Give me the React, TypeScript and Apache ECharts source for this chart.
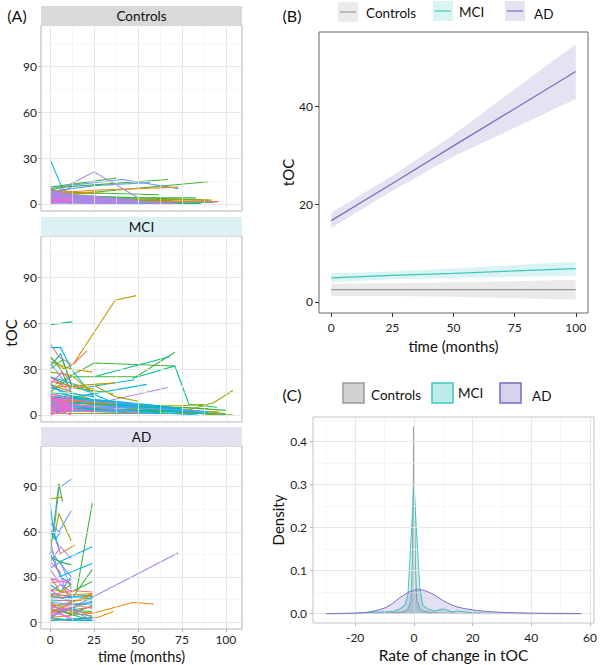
import React, { useEffect, useRef } from 'react';
import * as echarts from 'echarts';

const FONT = 'Lato, "Open Sans", sans-serif';

// ---------- shared ticks ----------
const facetNames = ['Controls', 'MCI', 'AD'];
const facetStripColors = ['#d9d9d9', '#dcf1f1', '#e4e1f1'];
const monthTicks = [0, 25, 50, 75, 100];
const monthMinor = [12.5, 37.5, 62.5, 87.5];
const tocTicksA = [0, 30, 60, 90];
const tocMinorA = [15, 45, 75, 105];
const tocTicksB = [0, 20, 40];
const rateTicks = [-20, 0, 20, 40, 60];
const rateMinor = [-30, -10, 10, 30, 50];
const densityTicks = [0, 0.1, 0.2, 0.3, 0.4];
const densityMinor = [0.05, 0.15, 0.25, 0.35, 0.45];

// ---------- panel A: individual trajectories [colour key, t0,v0,t1,v1,...] ----------
const trajColors: Record<string, string> = {
  R: '#F8766D', O: '#E8890C', G: '#C49A00', L: '#A3A500', N: '#3DB43D',
  T: '#00BF8A', C: '#00B4E8', B: '#619CFF', P: '#AD86EA', K: '#F464CF',
};

const controlsTrajectories: [string, number[]][] = [
  ['C', [0, 29, 7, 10, 13, 5]], ['C', [0, 4, 48, 1, 86, 0.5]], ['C', [0, 6, 25, 3, 93, 1]],
  ['C', [0, 3, 30, 1]], ['C', [0, 7, 12, 4, 40, 1.5]], ['C', [0, 2, 60, 0.5]],
  ['B', [0, 10, 10, 12, 41, 16, 73, 10]], ['B', [0, 8, 25, 12, 57, 14]], ['B', [0, 7, 12, 6, 50, 3]],
  ['B', [0, 4, 25, 2]], ['B', [0, 9, 6, 8, 12, 11]],
  ['N', [0, 5, 90, 14.5]], ['N', [0, 9, 7, 11, 67, 16]], ['N', [0, 11, 38, 17]], ['N', [0, 8, 62, 6]],
  ['N', [0, 4, 83, 4]], ['N', [0, 6, 25, 5, 90, 2.5]], ['N', [0, 3, 50, 2, 75, 1]],
  ['T', [0, 7, 25, 4, 50, 1.5]], ['T', [0, 3, 90, 1]], ['T', [0, 5, 12, 3, 70, 2]], ['T', [0, 10, 6, 7, 25, 4]],
  ['T', [0, 2, 12, 1, 62, 0.5]], ['T', [0, 1, 85, 0.3]], ['T', [0, 4, 37, 3, 75, 0.5]],
  ['O', [0, 7, 25, 9, 73, 11]], ['O', [0, 2, 95, 1.5]], ['O', [0, 9, 15, 8]], ['O', [0, 6, 12, 7, 26, 8]],
  ['L', [0, 3, 92, 2.5]], ['L', [0, 6, 30, 7]], ['L', [0, 2, 75, 3]],
  ['R', [0, 1, 96, 1.5]], ['R', [0, 3, 12, 2]],
  ['P', [0, 6, 25, 21, 50, 4]], ['P', [0, 8, 13, 3]], ['P', [0, 7, 25, 1]], ['P', [0, 5, 12, 4, 25, 2]],
  ['P', [0, 4, 13, 0]], ['P', [0, 3, 25, 0]], ['P', [0, 6, 12, 2]], ['P', [0, 9, 12, 5]],
  ['P', [0, 2, 25, 1]], ['P', [0, 5, 37, 1]], ['P', [0, 7, 12, 6, 24, 3]], ['P', [0, 4, 49, 0.5]],
  ['P', [0, 1, 25, 3]], ['P', [0, 0, 12, 2]], ['P', [0, 3, 12, 5]], ['P', [0, 8, 25, 4]],
  ['P', [0, 2, 37, 0]], ['P', [0, 6, 50, 1]], ['P', [0, 0.5, 25, 0.5, 50, 0]], ['P', [0, 1, 12, 1, 37, 1]],
  ['P', [0, 4, 25, 3, 38, 2]], ['P', [0, 5, 62, 0.5]], ['P', [0, 8, 37, 2]], ['P', [0, 3, 70, 0]],
  ['P', [0, 6, 25, 5, 50, 2]], ['P', [0, 2, 50, 1, 72, 0.5]], ['P', [0, 7, 37, 3, 60, 1]],
  ['K', [0, 4, 12, 1]], ['K', [0, 2, 12, 3]],
];

const mciTrajectories: [string, number[]][] = [
  ['T', [0, 59, 13, 61]],
  ['G', [0, 38, 8, 30, 13, 33, 37, 75, 49, 78]],
  ['R', [0, 47, 5, 38, 12, 33]], ['R', [13, 33, 21, 42]],
  ['N', [0, 15, 12, 25, 49, 25, 71, 41]], ['N', [3, 20, 25, 34, 71, 32]],
  ['T', [25, 25, 68, 38]], ['T', [47, 24, 71, 32, 79, 7, 95, 5]],
  ['C', [0, 44, 3, 44, 6, 44, 12, 30, 26, 10]], ['C', [0, 32, 6, 40, 12, 20, 40, 6]],
  ['C', [0, 25, 20, 18, 48, 23]], ['C', [5, 10, 55, 20]],
  ['P', [28, 8, 67, 18]],
  ['L', [0, 5, 75, 2, 93, 8, 104, 16]],
  ['G', [0, 35, 12, 30, 24, 28]], ['G', [0, 18, 25, 20, 37, 21]], ['G', [0, 20, 24, 10, 50, 3]],
  ['G', [12, 10, 60, 5, 100, 1]], ['G', [0, 8, 50, 6, 90, 4]], ['G', [0, 4, 96, 2]],
  ['N', [0, 38, 6, 30, 12, 15]], ['N', [0, 30, 7, 36, 12, 20]], ['N', [50, 5, 94, 0]],
  ['N', [0, 12, 37, 8, 62, 4]], ['N', [0, 25, 12, 18, 36, 14]], ['N', [0, 2, 75, 5, 100, 3]],
  ['L', [0, 28, 12, 26, 25, 14]], ['L', [24, 20, 37, 12, 50, 9]], ['L', [0, 10, 62, 3, 98, 0]],
  ['L', [0, 6, 75, 6, 88, 7]], ['L', [0, 1, 86, 1, 104, 0]],
  ['T', [0, 20, 12, 12, 62, 2]], ['T', [0, 15, 25, 10, 75, 4]], ['T', [0, 6, 50, 3, 100, 0.5]],
  ['T', [0, 3, 90, 2]], ['T', [0, 9, 36, 6, 75, 3]],
  ['C', [0, 14, 25, 8, 80, 2]], ['C', [0, 8, 40, 3, 84, 0]], ['C', [0, 5, 62, 1]],
  ['C', [0, 18, 12, 14, 25, 12]], ['C', [0, 12, 37, 9, 70, 5]], ['C', [0, 9, 40, 7, 90, 2]],
  ['C', [0, 4, 50, 5, 86, 1]], ['C', [0, 10, 25, 9, 62, 6]],
  ['B', [0, 20, 12, 10, 25, 8]], ['B', [0, 34, 6, 25, 12, 17]], ['B', [0, 7, 48, 5]],
  ['B', [0, 3, 30, 2, 60, 1]], ['B', [0, 6, 62, 4, 88, 2]], ['B', [0, 11, 50, 7]],
  ['O', [0, 22, 12, 19, 25, 17]], ['O', [0, 10, 37, 7]],
  ['R', [0, 14, 12, 10, 24, 8]],
  ['P', [0, 10, 24, 5, 50, 2]], ['P', [0, 4, 36, 2]],
  ['K', [0, 25, 12, 15]], ['K', [0, 20, 7, 28, 12, 22]], ['K', [0, 12, 6, 10, 12, 8]],
  ['K', [0, 10, 12, 4]], ['K', [0, 8, 6, 5, 12, 11]], ['K', [0, 6, 12, 2]],
  ['K', [0, 4, 6, 9, 12, 3]], ['K', [0, 2, 12, 6]], ['K', [0, 0, 12, 4]],
  ['K', [0, 14, 6, 7, 12, 1]], ['K', [0, 5, 12, 0]], ['K', [0, 9, 12, 12]],
  ['K', [0, 3, 6, 1, 12, 5]], ['K', [0, 11, 12, 7, 24, 5]], ['K', [0, 7, 24, 2]],
  ['K', [0, 1, 12, 8]], ['K', [0, 13, 12, 2]],
];

const adTrajectories: [string, number[]][] = [
  ['B', [2, 58, 5, 89, 12, 95]], ['N', [0, 45, 5, 92, 7, 80]], ['L', [0, 82, 7, 83]],
  ['L', [2, 55, 5, 72, 12, 54]], ['C', [0, 79, 2, 60, 5, 50]], ['N', [15, 20, 24, 79]],
  ['P', [10, 8, 73, 46]], ['O', [0, 3, 25, 6, 47, 13, 59, 12]], ['O', [12, 2, 27, 3, 36, 7]],
  ['B', [0, 66, 5, 60, 12, 74]], ['O', [5, 45, 14, 51]], ['C', [5, 40, 24, 50]], ['C', [5, 30, 24, 39]],
  ['N', [12, 15, 24, 35]], ['N', [12, 20, 24, 27]],
  ['P', [0, 62, 3, 55, 6, 45]], ['P', [0, 40, 6, 50, 12, 42]], ['P', [0, 55, 4, 35, 8, 28]],
  ['P', [0, 35, 6, 25, 12, 20]], ['P', [0, 28, 6, 30, 12, 12]], ['P', [0, 20, 6, 25, 12, 16]],
  ['B', [0, 48, 5, 40, 12, 30]], ['B', [0, 36, 6, 40, 12, 22]],
  ['C', [0, 60, 3, 55, 6, 60]], ['C', [0, 46, 6, 30, 12, 25]], ['C', [0, 25, 6, 20, 12, 30]],
  ['C', [0, 19, 12, 17, 24, 18]], ['C', [0, 16, 24, 17]], ['C', [0, 11, 24, 12]],
  ['T', [0, 18, 12, 14, 24, 16]], ['T', [0, 14, 24, 15]], ['T', [0, 6, 12, 8, 24, 10]], ['T', [0, 9, 24, 1]],
  ['N', [0, 43, 6, 40, 12, 38]], ['N', [0, 12, 12, 5, 24, 11]], ['N', [0, 8, 24, 4]],
  ['N', [0, 4, 24, 14]], ['N', [0, 2, 6, 8, 24, 7]],
  ['G', [0, 22, 12, 19]], ['G', [0, 13, 12, 7, 24, 6]], ['G', [0, 30, 6, 20, 12, 25]],
  ['O', [0, 17, 12, 18, 24, 19]], ['O', [0, 6, 12, 13, 24, 19]], ['O', [0, 10, 18, 15, 24, 18]],
  ['R', [0, 18, 12, 21, 24, 20]], ['R', [0, 9, 12, 6, 24, 11]], ['R', [0, 5, 12, 12, 24, 9]],
  ['K', [0, 29, 6, 27, 12, 26]], ['K', [0, 15, 12, 14]], ['K', [0, 12, 6, 8, 12, 10]],
  ['K', [0, 7, 12, 3]], ['K', [0, 4, 6, 6, 12, 1]], ['K', [0, 2, 12, 1]],
  ['K', [0, 22, 6, 16, 12, 18]], ['K', [0, 26, 12, 28]], ['K', [0, 40, 6, 33]],
  ['P', [0, 10, 12, 8, 24, 1]], ['P', [0, 3, 12, 10, 24, 3]],
  ['B', [0, 13, 12, 12, 24, 13]], ['B', [0, 1, 24, 2]], ['C', [0, 3, 12, 1, 24, 1]], ['T', [0, 1, 24, 3]],
];

// ---------- panel B: fitted trends with 95% bands ----------
const fitTime = [0, 25, 50, 75, 100];
const fitControls = [2.5, 2.5, 2.5, 2.5, 2.5];
const loControls = [1.2, 1.2, 1.0, 0.7, 0.4];
const hiControls = [3.7, 3.8, 4.0, 4.2, 4.5];
const fitMCI = [4.9, 5.4, 5.8, 6.3, 6.8];
const loMCI = [4.0, 4.6, 4.9, 5.1, 5.3];
const hiMCI = [5.8, 6.2, 6.8, 7.5, 8.2];
const fitAD = [16.6, 24.2, 31.9, 39.5, 47.1];
const loAD = [15.1, 22.7, 29.7, 35.6, 41.5];
const hiAD = [18.2, 25.8, 34.2, 43.5, 52.7];

// ---------- panel C: densities of rate of change ----------
const rateGrid = [-30, -20, -15, -10, -7, -5, -3, -2, -1, -0.5, -0.25, 0, 0.25, 0.5, 1, 2, 3, 5, 7, 10, 13, 15, 20, 25, 30, 40, 57];
const densControls = [0, 0, 0.001, 0.001, 0.002, 0.003, 0.005, 0.01, 0.03, 0.12, 0.28, 0.435, 0.28, 0.12, 0.03, 0.012, 0.006, 0.003, 0.002, 0.001, 0.001, 0, 0, 0, 0, 0, 0];
const densMCI = [0, 0.001, 0.003, 0.004, 0.005, 0.01, 0.02, 0.045, 0.17, 0.23, 0.26, 0.29, 0.27, 0.24, 0.18, 0.06, 0.02, 0.01, 0.006, 0.011, 0.004, 0.006, 0.002, 0.001, 0.0005, 0, 0];
const densAD = [0, 0.001, 0.004, 0.013, 0.025, 0.036, 0.045, 0.049, 0.052, 0.053, 0.0535, 0.054, 0.0545, 0.055, 0.0553, 0.0555, 0.055, 0.05, 0.043, 0.03, 0.02, 0.015, 0.0085, 0.005, 0.003, 0.0012, 0.0002];

const groupLine = ['#9a9a9a', '#3ec6bf', '#7a6cc0'];
const groupBand = ['rgba(150,150,150,0.2)', 'rgba(64,200,192,0.2)', 'rgba(123,108,192,0.2)'];
const groupDensFill = ['rgba(150,150,150,0.45)', 'rgba(64,200,192,0.35)', 'rgba(123,108,192,0.3)'];

// ---------- layout ----------
const A_LEFT = 41, A_W = 201, A_H = 186, STRIP_H = 19;
const A_TOPS = [25, 236, 446];

function toPairs(a: number[]) {
  const out: number[][] = [];
  for (let i = 0; i < a.length; i += 2) out.push([a[i], a[i + 1]]);
  return out;
}

function gridLineSeries(gi: number, xs: number[], xm: number[], ys: number[], ym: number[]) {
  const major = { color: '#e4e4e4', width: 0.9, type: 'solid' };
  const minor = { color: '#f0f0f0', width: 0.6, type: 'solid' };
  return {
    type: 'line', xAxisIndex: gi, yAxisIndex: gi, data: [], silent: true, z: 1,
    markLine: {
      silent: true, symbol: ['none', 'none'], label: { show: false }, animation: false,
      emphasis: { disabled: true },
      data: [
        ...xm.map((v) => ({ xAxis: v, lineStyle: minor })),
        ...ym.map((v) => ({ yAxis: v, lineStyle: minor })),
        ...xs.map((v) => ({ xAxis: v, lineStyle: major })),
        ...ys.map((v) => ({ yAxis: v, lineStyle: major })),
      ],
    },
  };
}

function bandSeries(lo: number[], hi: number[], color: string) {
  return {
    type: 'custom', xAxisIndex: 3, yAxisIndex: 3, silent: true, z: 2,
    data: fitTime.map((t, i) => [t, lo[i], hi[i]]),
    renderItem: (params: any, api: any) => {
      if (params.dataIndex !== 0) return { type: 'group', children: [] };
      const pts: number[][] = [];
      for (let i = 0; i < fitTime.length; i++) pts.push(api.coord([fitTime[i], hi[i]]));
      for (let i = fitTime.length - 1; i >= 0; i--) pts.push(api.coord([fitTime[i], lo[i]]));
      return { type: 'polygon', shape: { points: pts }, style: { fill: color } };
    },
  };
}

function buildOption() {
  const trajSets = [controlsTrajectories, mciTrajectories, adTrajectories];
  const labelStyle = { fontSize: 12, color: '#222', fontFamily: FONT };
  const noLine = { show: false, onZero: false };

  const grid: any[] = [
    ...A_TOPS.map((t) => ({ left: A_LEFT, top: t, width: A_W, height: A_H, show: true, borderColor: '#b3b3b3', borderWidth: 1, backgroundColor: '#fff' })),
    { left: 319, top: 32, width: 269, height: 281, show: true, borderColor: '#666', borderWidth: 1, backgroundColor: 'transparent' },
    { left: 313, top: 417, width: 284, height: 206, show: true, borderColor: '#c4c4c4', borderWidth: 1, backgroundColor: '#fff' },
  ];

  const xAxis: any[] = [
    ...A_TOPS.map((_, i) => ({
      type: 'value', gridIndex: i, min: -5.2, max: 109.2, position: 'bottom',
      axisLine: noLine, splitLine: { show: false },
      axisTick: { show: i === 2, customValues: monthTicks, length: 3, lineStyle: { color: '#b3b3b3' } },
      axisLabel: { show: i === 2, customValues: monthTicks, margin: 4, ...labelStyle },
      name: i === 2 ? 'time (months)' : '', nameLocation: 'middle', nameGap: 20,
      nameTextStyle: { fontSize: 14.5, color: '#111', fontFamily: FONT },
    })),
    {
      type: 'value', gridIndex: 3, min: -5, max: 105, position: 'bottom',
      axisLine: noLine, splitLine: { show: false },
      axisTick: { show: true, customValues: monthTicks, length: 4, lineStyle: { color: '#333' } },
      axisLabel: { customValues: monthTicks, margin: 8, ...labelStyle },
      name: 'time (months)', nameLocation: 'middle', nameGap: 25,
      nameTextStyle: { fontSize: 15, color: '#111', fontFamily: FONT },
    },
    {
      type: 'value', gridIndex: 4, min: -34.35, max: 61.35, position: 'bottom',
      axisLine: noLine, splitLine: { show: false },
      axisTick: { show: true, customValues: rateTicks, length: 3, lineStyle: { color: '#b3b3b3' } },
      axisLabel: { customValues: rateTicks, margin: 8, ...labelStyle },
      name: 'Rate of change in tOC', nameLocation: 'middle', nameGap: 24,
      nameTextStyle: { fontSize: 15.5, color: '#111', fontFamily: FONT },
    },
  ];

  const yAxis: any[] = [
    ...A_TOPS.map((_, i) => ({
      type: 'value', gridIndex: i, min: -4.6, max: 117, position: 'left',
      axisLine: noLine, splitLine: { show: false },
      axisTick: { show: true, customValues: tocTicksA, length: 3, lineStyle: { color: '#b3b3b3' } },
      axisLabel: { customValues: tocTicksA, margin: 4, ...labelStyle },
    })),
    {
      type: 'value', gridIndex: 3, min: -2.3, max: 55.2, position: 'left',
      axisLine: noLine, splitLine: { show: false },
      axisTick: { show: true, customValues: tocTicksB, length: 4, lineStyle: { color: '#333' } },
      axisLabel: { customValues: tocTicksB, margin: 6, ...labelStyle },
      name: 'tOC', nameLocation: 'middle', nameGap: 24,
      nameTextStyle: { fontSize: 15, color: '#111', fontFamily: FONT },
    },
    {
      type: 'value', gridIndex: 4, min: -0.0218, max: 0.4568, position: 'left',
      axisLine: noLine, splitLine: { show: false },
      axisTick: { show: true, customValues: densityTicks, length: 3, lineStyle: { color: '#b3b3b3' } },
      axisLabel: { customValues: densityTicks, margin: 6, formatter: (v: number) => v.toFixed(1), ...labelStyle },
      name: 'Density', nameLocation: 'middle', nameGap: 28,
      nameTextStyle: { fontSize: 15, color: '#111', fontFamily: FONT },
    },
  ];

  const series: any[] = [];
  A_TOPS.forEach((_, i) => {
    series.push(gridLineSeries(i, monthTicks, monthMinor, tocTicksA, tocMinorA));
    series.push({
      type: 'lines', coordinateSystem: 'cartesian2d', xAxisIndex: i, yAxisIndex: i,
      polyline: true, silent: true, z: 3,
      lineStyle: { width: 1.1, opacity: 1 },
      data: trajSets[i].map(([c, pts]) => ({ coords: toPairs(pts), lineStyle: { color: trajColors[c], width: 1.1, opacity: 1 } })),
    });
  });

  const fits = [fitControls, fitMCI, fitAD];
  const los = [loControls, loMCI, loAD];
  const his = [hiControls, hiMCI, hiAD];
  for (let g = 0; g < 3; g++) series.push(bandSeries(los[g], his[g], groupBand[g]));
  for (let g = 0; g < 3; g++) {
    series.push({
      type: 'line', name: facetNames[g], xAxisIndex: 3, yAxisIndex: 3, z: 3,
      data: fitTime.map((t, i) => [t, fits[g][i]]), showSymbol: false, symbol: 'none',
      lineStyle: { color: groupLine[g], width: 1.2 }, silent: true,
    });
  }

  series.push(gridLineSeries(4, rateTicks, rateMinor, densityTicks, densityMinor));
  const dens = [densControls, densMCI, densAD];
  for (let g = 0; g < 3; g++) {
    series.push({
      type: 'line', xAxisIndex: 4, yAxisIndex: 4, z: 3 + g, silent: true,
      data: rateGrid.map((x, i) => [x, dens[g][i]]), showSymbol: false, symbol: 'none',
      smooth: g === 2 ? 0.3 : false,
      lineStyle: { color: groupLine[g], width: 1 },
      areaStyle: { color: groupDensFill[g], origin: 0 },
    });
  }

  const txt = (x: number, y: number, text: string, size: number, align = 'center', extra: any = {}) => ({
    type: 'text', x, y, silent: true, z: 10, ...extra,
    style: { text, fill: '#111', font: `${size}px ${FONT}`, align, verticalAlign: 'middle', textAlign: align, textVerticalAlign: 'middle' },
  });

  const graphic: any[] = [
    txt(17, 15, '(A)', 16),
    txt(292, 15, '(B)', 16),
    txt(292, 394, '(C)', 16),
    txt(11, 333, 'tOC', 15, 'center', { rotation: Math.PI / 2 }),
  ];
  A_TOPS.forEach((t, i) => {
    graphic.push({ type: 'rect', shape: { x: A_LEFT, y: t - STRIP_H, width: A_W, height: STRIP_H }, style: { fill: facetStripColors[i] }, silent: true, z: 5 });
    graphic.push(txt(A_LEFT + A_W / 2, t - STRIP_H / 2, facetNames[i], 13.5));
  });

  // legend B
  const legB = [{ x: 338, y: 2, tx: 366, ty: 13 }, { x: 433, y: 1, tx: 459, ty: 12 }, { x: 505, y: 1, tx: 534, ty: 14 }];
  legB.forEach((p, g) => {
    graphic.push({ type: 'rect', shape: { x: p.x, y: p.y, width: 20, height: 20 }, style: { fill: groupBand[g] }, silent: true });
    graphic.push({ type: 'line', shape: { x1: p.x + 2, y1: p.y + 10, x2: p.x + 18, y2: p.y + 10 }, style: { stroke: groupLine[g], lineWidth: 1.2 }, silent: true });
    graphic.push(txt(p.tx, p.ty, facetNames[g], 13.5, 'left'));
  });
  // legend C
  const legC = [{ x: 343, y: 383, tx: 371, ty: 395 }, { x: 432, y: 383, tx: 458, ty: 393 }, { x: 500, y: 383, tx: 532, ty: 396 }];
  legC.forEach((p, g) => {
    graphic.push({ type: 'rect', shape: { x: p.x, y: p.y, width: 21, height: 20 }, style: { fill: groupDensFill[g], stroke: groupLine[g], lineWidth: 1.5 }, silent: true });
    graphic.push(txt(p.tx, p.ty, facetNames[g], 13.5, 'left'));
  });

  return { animation: false, textStyle: { fontFamily: FONT }, grid, xAxis, yAxis, series, graphic };
}

export default function App() {
  const ref = useRef<HTMLDivElement>(null);
  useEffect(() => {
    document.body.style.margin = '0';
    const chart = echarts.init(ref.current as HTMLDivElement, undefined, { renderer: 'svg', width: 600, height: 665 });
    chart.setOption(buildOption() as any);
    return () => chart.dispose();
  }, []);
  return <div ref={ref} style={{ width: 600, height: 665, background: '#fff' }} />;
}
